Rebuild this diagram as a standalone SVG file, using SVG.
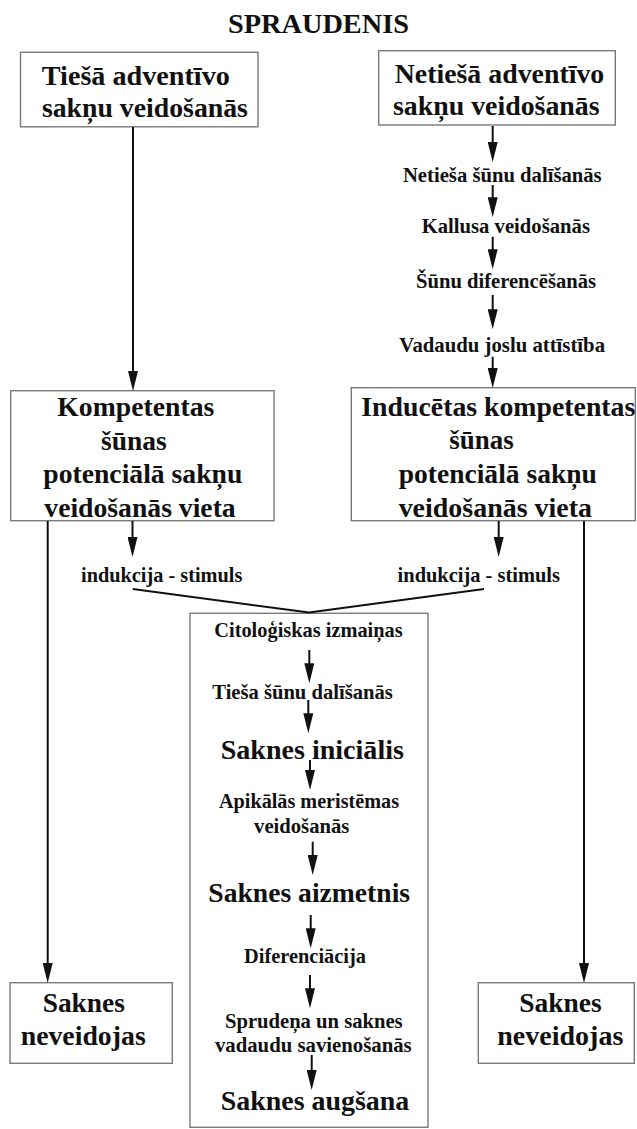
<svg xmlns="http://www.w3.org/2000/svg" width="637" height="1129" viewBox="0 0 637 1129">
<style>
  .box { fill: none; stroke: #7a7a7a; stroke-width: 1.4; }
  .t { font-family: "Liberation Serif", "Times New Roman", serif; font-weight: bold; fill: #111; text-anchor: middle; }
  .big { font-size: 28px; }
  .sm { font-size: 21px; }
  .ttl { font-size: 27px; }
  .ln { stroke: #111; stroke-width: 2; fill: none; }
  .ar { stroke: #111; stroke-width: 2; fill: none; marker-end: url(#ah); }
</style>
<defs>
  <marker id="ah" viewBox="0 0 20 10" refX="10" refY="5" markerWidth="20" markerHeight="10" markerUnits="userSpaceOnUse" orient="auto">
    <path d="M0,0 L20,5 L0,10 z" fill="#111"/>
  </marker>
</defs>
<rect width="637" height="1129" fill="#ffffff"/>

<g id="title">
  <text class="t ttl" x="318.5" y="33.3" textLength="181" lengthAdjust="spacingAndGlyphs">SPRAUDENIS</text>
</g>

<g id="node-tiesa">
  <rect class="box" x="20.5" y="52.3" width="237.5" height="74.5"/>
  <text class="t big" x="135.8" y="85" textLength="188" lengthAdjust="spacingAndGlyphs">Tiešā adventīvo</text>
  <text class="t big" x="144.9" y="116.7" textLength="206" lengthAdjust="spacingAndGlyphs">sakņu veidošanās</text>
</g>

<g id="node-netiesa">
  <rect class="box" x="378.7" y="50.7" width="236.6" height="74.3"/>
  <text class="t big" x="499.5" y="83.3" textLength="209.6" lengthAdjust="spacingAndGlyphs">Netiešā adventīvo</text>
  <text class="t big" x="496.3" y="115" textLength="206.7" lengthAdjust="spacingAndGlyphs">sakņu veidošanās</text>
</g>

<g id="step-netiesa-dalisanas">
  <text class="t sm" x="502.3" y="181.7" textLength="198.7" lengthAdjust="spacingAndGlyphs">Netieša šūnu dalīšanās</text>
</g>
<g id="step-kallusa">
  <text class="t sm" x="505.8" y="232.7" textLength="168.3" lengthAdjust="spacingAndGlyphs">Kallusa veidošanās</text>
</g>
<g id="step-diferencesanas">
  <text class="t sm" x="506" y="288.3" textLength="180" lengthAdjust="spacingAndGlyphs">Šūnu diferencēšanās</text>
</g>
<g id="step-vadaudu">
  <text class="t sm" x="502.2" y="351.7" textLength="205.7" lengthAdjust="spacingAndGlyphs">Vadaudu joslu attīstība</text>
</g>

<g id="node-kompetentas">
  <rect class="box" x="10.7" y="390.7" width="263.3" height="130"/>
  <text class="t big" x="135.8" y="416" textLength="157" lengthAdjust="spacingAndGlyphs">Kompetentas</text>
  <text class="t big" x="133.8" y="450" textLength="65.7" lengthAdjust="spacingAndGlyphs">šūnas</text>
  <text class="t big" x="142.8" y="483.3" textLength="199" lengthAdjust="spacingAndGlyphs">potenciālā sakņu</text>
  <text class="t big" x="140" y="516.7" textLength="191.4" lengthAdjust="spacingAndGlyphs">veidošanās vieta</text>
</g>

<g id="node-inducetas">
  <rect class="box" x="351.3" y="387.7" width="284" height="133"/>
  <text class="t big" x="498.3" y="416" textLength="274" lengthAdjust="spacingAndGlyphs">Inducētas kompetentas</text>
  <text class="t big" x="481.5" y="449" textLength="64.4" lengthAdjust="spacingAndGlyphs">šūnas</text>
  <text class="t big" x="497.8" y="482.7" textLength="198.3" lengthAdjust="spacingAndGlyphs">potenciālā sakņu</text>
  <text class="t big" x="495.3" y="516.7" textLength="193.3" lengthAdjust="spacingAndGlyphs">veidošanās vieta</text>
</g>

<g id="stimulus-left">
  <text class="t sm" x="161.7" y="582.3" textLength="161.3" lengthAdjust="spacingAndGlyphs">indukcija - stimuls</text>
</g>
<g id="stimulus-right">
  <text class="t sm" x="478.8" y="582.3" textLength="162.4" lengthAdjust="spacingAndGlyphs">indukcija - stimuls</text>
</g>

<g id="node-central">
  <rect class="box" x="190" y="613.3" width="238" height="514"/>
  <text class="t sm" x="308.5" y="636.7" textLength="188.4" lengthAdjust="spacingAndGlyphs">Citoloģiskas izmaiņas</text>
  <text class="t sm" x="302.5" y="699.3" textLength="180.4" lengthAdjust="spacingAndGlyphs">Tieša šūnu dalīšanās</text>
  <text class="t big" x="312.3" y="759.3" textLength="183.3" lengthAdjust="spacingAndGlyphs">Saknes iniciālis</text>
  <text class="t sm" x="309" y="808.3" textLength="180" lengthAdjust="spacingAndGlyphs">Apikālās meristēmas</text>
  <text class="t sm" x="301.7" y="832.7" textLength="95.3" lengthAdjust="spacingAndGlyphs">veidošanās</text>
  <text class="t big" x="309.2" y="901.7" textLength="201.7" lengthAdjust="spacingAndGlyphs">Saknes aizmetnis</text>
  <text class="t sm" x="305" y="963.3" textLength="122" lengthAdjust="spacingAndGlyphs">Diferenciācija</text>
  <text class="t sm" x="313.8" y="1028.3" textLength="177.7" lengthAdjust="spacingAndGlyphs">Sprudeņa un saknes</text>
  <text class="t sm" x="313.3" y="1051.7" textLength="196.7" lengthAdjust="spacingAndGlyphs">vadaudu savienošanās</text>
  <text class="t big" x="315" y="1110" textLength="188.6" lengthAdjust="spacingAndGlyphs">Saknes augšana</text>
</g>

<g id="node-neveidojas-left">
  <rect class="box" x="10" y="982.7" width="162.3" height="80.6"/>
  <text class="t big" x="83.8" y="1011.7" textLength="82.3" lengthAdjust="spacingAndGlyphs">Saknes</text>
  <text class="t big" x="83.2" y="1045" textLength="125" lengthAdjust="spacingAndGlyphs">neveidojas</text>
</g>

<g id="node-neveidojas-right">
  <rect class="box" x="478.3" y="982.7" width="156" height="80.6"/>
  <text class="t big" x="560.5" y="1011.7" textLength="82.4" lengthAdjust="spacingAndGlyphs">Saknes</text>
  <text class="t big" x="560.3" y="1045" textLength="126" lengthAdjust="spacingAndGlyphs">neveidojas</text>
</g>

<g id="connectors">
  <line class="ar" x1="133" y1="127" x2="133" y2="381"/>
  <line class="ar" x1="492.7" y1="126" x2="492.7" y2="152"/>
  <line class="ar" x1="492.7" y1="185" x2="492.7" y2="207.3"/>
  <line class="ar" x1="492.7" y1="236.7" x2="492.7" y2="259.3"/>
  <line class="ar" x1="492.7" y1="295" x2="492.7" y2="319.3"/>
  <line class="ar" x1="492.7" y1="356.7" x2="492.7" y2="378"/>
  <line class="ar" x1="47.7" y1="521" x2="47.7" y2="973"/>
  <line class="ar" x1="584" y1="521" x2="584" y2="973"/>
  <line class="ar" x1="132.5" y1="521" x2="132.5" y2="547"/>
  <line class="ar" x1="498.7" y1="521" x2="498.7" y2="547"/>
  <polyline class="ln" points="132.7,589 309,612.5 484,589"/>
  <line class="ar" x1="309.3" y1="650" x2="309.3" y2="673.3"/>
  <line class="ar" x1="308.3" y1="700" x2="308.3" y2="723.3"/>
  <line class="ar" x1="310" y1="760" x2="310" y2="780"/>
  <line class="ar" x1="312.7" y1="841.7" x2="312.7" y2="865"/>
  <line class="ar" x1="310.7" y1="915" x2="310.7" y2="938.3"/>
  <line class="ar" x1="310" y1="975" x2="310" y2="998.3"/>
  <line class="ar" x1="311.7" y1="1055" x2="311.7" y2="1080"/>
</g>
</svg>
